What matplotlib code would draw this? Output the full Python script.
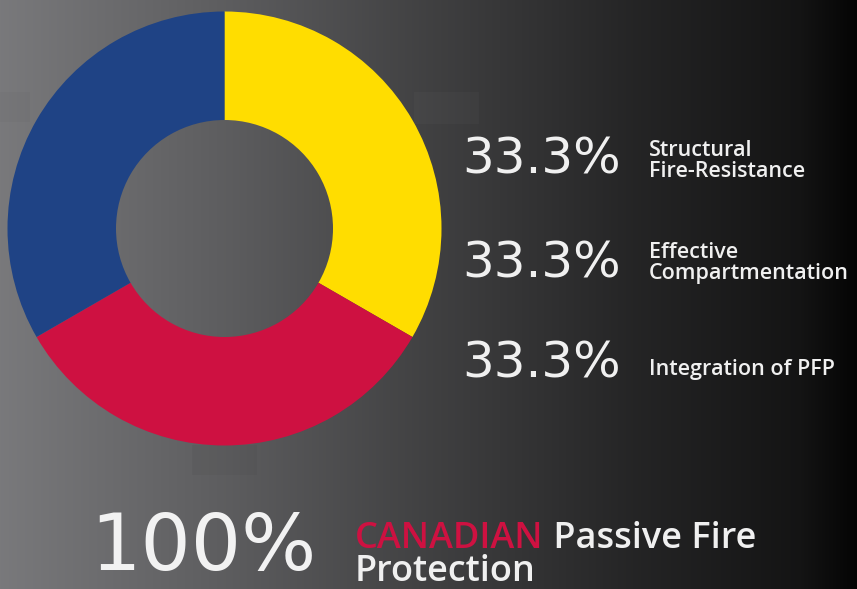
import numpy as np
import matplotlib
matplotlib.use("Agg")
import matplotlib.pyplot as plt
from matplotlib.patches import Rectangle

# data
categories = ["Structural\nFire-Resistance", "Effective\nCompartmentation", "Integration of PFP"]
shares = [33.3, 33.3, 33.3]
colors = ["#FFDD00", "#CE1141", "#1F4385"]
total_label = "100%"

W, H = 857, 589
fig = plt.figure(figsize=(W / 100, H / 100), dpi=100)

# background: horizontal grey -> black gradient
bg = fig.add_axes([0, 0, 1, 1])
stops_x = [0, 225, 440, 640, 800, 857]
stops_v = [121, 93, 63, 36, 20, 4]
grad = np.interp(np.arange(W), stops_x, stops_v) / 255.0
img = np.dstack([grad, grad, grad * 1.02])
img = np.clip(img, 0, 1)
bg.imshow(np.repeat(img, 2, axis=0), extent=[0, W, H, 0], aspect="auto")
bg.set_xlim(0, W)
bg.set_ylim(H, 0)
bg.axis("off")

# faint leftover squares in the artwork
for (x, y, w, h, c, a) in [(0, 92, 30, 30, "black", 0.025), (414, 92, 65, 32, "white", 0.025),
                           (192, 445, 65, 30, "black", 0.03)]:
    bg.add_patch(Rectangle((x, y), w, h, color=c, alpha=a, lw=0))

# donut
cx, cy, r = 224.5, 228.5, 217
ax = fig.add_axes([(cx - r) / W, 1 - (cy + r) / H, 2 * r / W, 2 * r / H])
ax.pie(shares, colors=colors, startangle=90, counterclock=False,
       wedgeprops=dict(width=0.5, linewidth=0))
ax.set_xlim(-1, 1)
ax.set_ylim(-1, 1)
ax.axis("off")

# right-hand legend text
pct_font = dict(family="DejaVu Sans", fontsize=36, color="#f0f0f0")
lab_font = dict(family="Open Sans", fontweight="semibold", fontsize=15.5, color="#f0f0f0")
pct_base = [173, 277, 378]
lab_base = [[156, 177], [258, 279], [375]]
for i, lab in enumerate(categories):
    bg.text(462, pct_base[i], "%.1f%%" % shares[i], va="baseline", ha="left", **pct_font)
    for line, yb in zip(lab.split("\n"), lab_base[i]):
        bg.text(649, yb, line, va="baseline", ha="left", **lab_font)

# bottom tagline
bg.text(90, 570, total_label, va="baseline", ha="left", family="DejaVu Sans",
        fontsize=57, color="#f2f2f2")
t1 = bg.text(355, 548, "CANADIAN", va="baseline", ha="left", family="Open Sans",
             fontweight="semibold", fontsize=26, color="#CE1141")
bg.annotate(" Passive Fire", xycoords=t1, xy=(1, 0), va="bottom", ha="left",
            family="Open Sans", fontweight="semibold", fontsize=26, color="#f0f0f0")
bg.text(355, 581, "Protection", va="baseline", ha="left", family="Open Sans",
        fontweight="semibold", fontsize=26, color="#f0f0f0")

fig.savefig("out.png", dpi=100)
